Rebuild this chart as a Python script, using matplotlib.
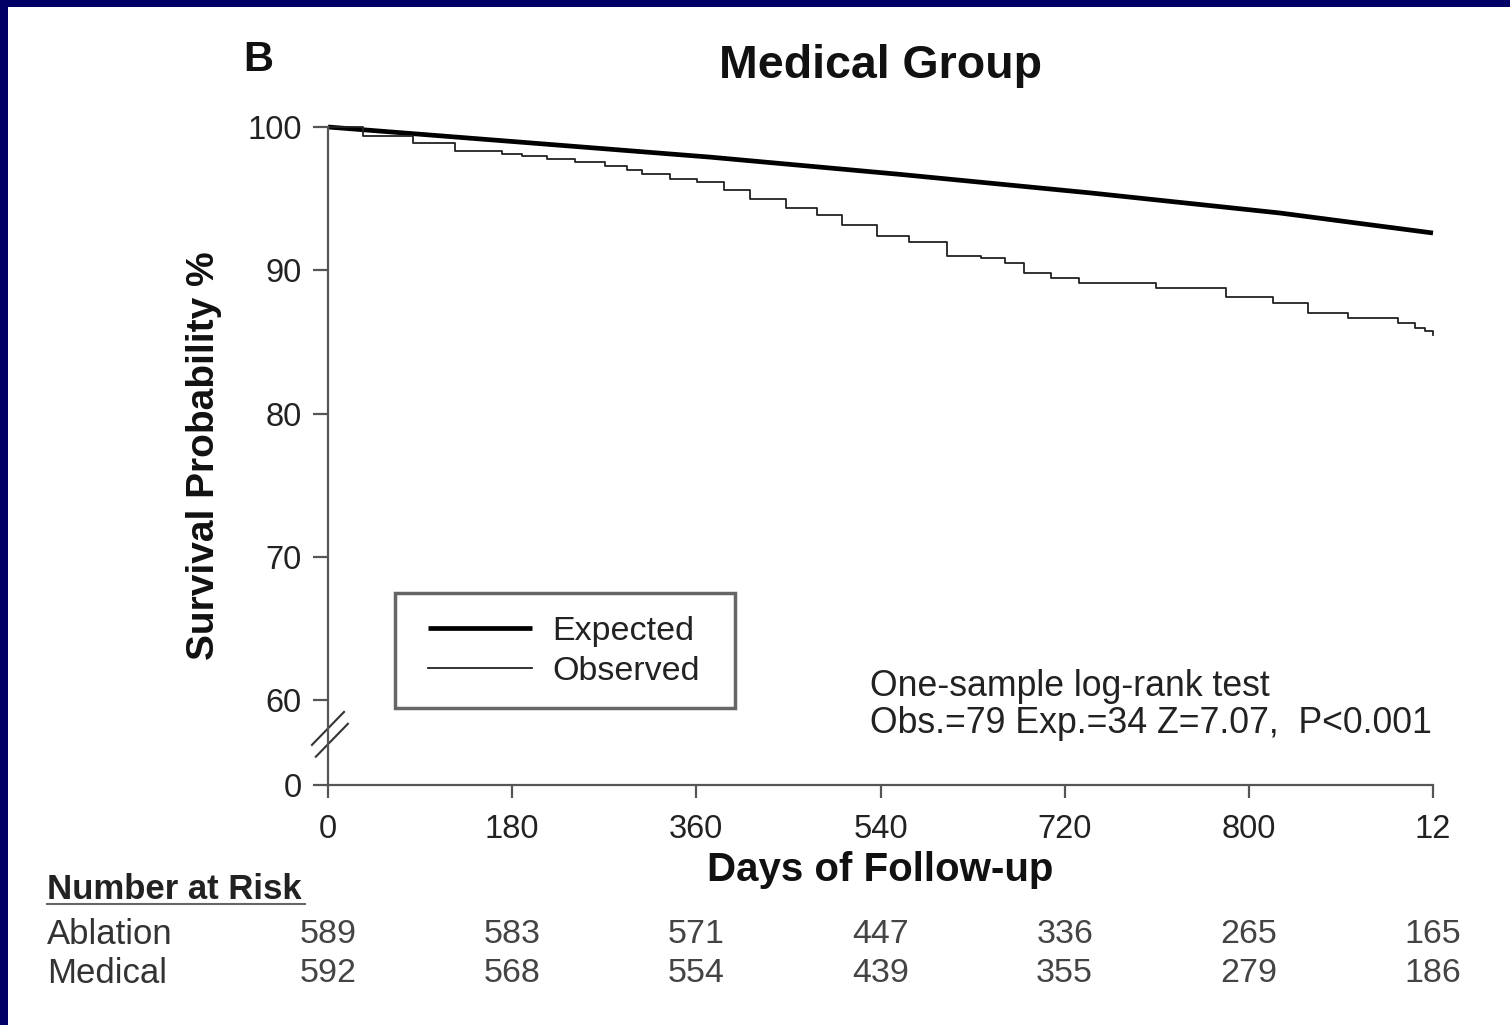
import matplotlib
matplotlib.use('Agg')
import matplotlib.pyplot as plt
from matplotlib.patches import Rectangle
from matplotlib.lines import Line2D
from matplotlib.transforms import blended_transform_factory

plt.rcParams['font.family'] = ['Liberation Sans', 'DejaVu Sans']

# curves (days of follow-up, survival %)
obs_days = [0, 34, 83, 124, 170, 190, 214, 241, 271, 292, 307, 334, 361, 387,
            412, 448, 478, 502, 537, 568, 605, 638, 662, 680, 707, 734, 809,
            878, 924, 958, 997, 1046, 1062, 1072, 1080]
obs_surv = [100, 99.4, 98.9, 98.3, 98.1, 98.0, 97.8, 97.55, 97.3, 97.0, 96.7,
            96.4, 96.15, 95.6, 95.0, 94.35, 93.85, 93.15, 92.4, 91.95, 91.0,
            90.85, 90.5, 89.8, 89.45, 89.1, 88.75, 88.1, 87.7, 87.05, 86.65,
            86.3, 86.0, 85.75, 85.5]
exp_days = [0, 187, 373, 558, 745, 930, 1080]
exp_surv = [100, 98.95, 97.9, 96.7, 95.4, 94.0, 92.6]

x_ticks = [0, 180, 360, 540, 720, 900, 1080]
x_ticklabels = ['0', '180', '360', '540', '720', '800', '12']
y_bottom = 54.07   # broken axis: bottom tick is shown as "0"
y_ticks = [y_bottom, 60, 70, 80, 90, 100]
y_ticklabels = ['0', '60', '70', '80', '90', '100']

risk_groups = ['Ablation', 'Medical']
risk_ablation = [589, 583, 571, 447, 336, 265, 165]
risk_medical = [592, 568, 554, 439, 355, 279, 186]

W, H = 1510, 1025
fig = plt.figure(figsize=(W / 100, H / 100), dpi=100)
fig.patch.set_facecolor('#000066')
fig.add_artist(Rectangle((8 / W, 0), 1, 1 - 7 / H, transform=fig.transFigure,
                         facecolor='white', edgecolor='none', zorder=-5))

ax = fig.add_axes([328 / W, 1 - 785 / H, 1105 / W, 658 / H])
ax.set_facecolor('white')

ax.plot(exp_days, exp_surv, color='black', lw=3.4, label='Expected',
        clip_on=False, solid_capstyle='butt')
ax.step(obs_days, obs_surv, where='post', color='#222222', lw=1.3,
        label='Observed', clip_on=False)

ax.set_xlim(0, 1080)
ax.set_ylim(y_bottom, 100)
ax.set_xticks(x_ticks)
ax.set_xticklabels(x_ticklabels)
ax.set_yticks(y_ticks)
ax.set_yticklabels(y_ticklabels)

for s in ['top', 'right']:
    ax.spines[s].set_visible(False)
for s in ['left', 'bottom']:
    ax.spines[s].set_color('#555555')
    ax.spines[s].set_linewidth(1.6)

ax.tick_params(axis='y', length=11, width=1.6, color='#555555', pad=8,
               labelsize=23.5, labelcolor='#222222')
ax.tick_params(axis='x', length=9, width=1.6, color='#555555', pad=12,
               labelsize=23.5, labelcolor='#222222')

# break marks on the y axis
for x0, y0, x1, y1 in [(-0.0145, 0.061, 0.0145, 0.111), (-0.011, 0.043, 0.018, 0.093)]:
    ax.add_line(Line2D([x0, x1], [y0, y1], transform=ax.transAxes, color='#333333',
                       lw=1.5, clip_on=False))

ax.set_title('Medical Group', fontsize=33.5, fontweight='bold', pad=35, color='#111111')
fig.text(258 / W, 1 - 60 / H, 'B', fontsize=30, fontweight='bold', ha='center',
         va='center', color='#111111')
ax.set_xlabel('Days of Follow-up', fontsize=29, fontweight='bold', labelpad=4,
              color='#111111')
ax.set_ylabel('Survival Probability %', fontsize=28, fontweight='bold', labelpad=18,
              color='#111111')

# legend with its own box
ax.add_patch(Rectangle((0.0606, 0.117), 0.3077, 0.1748, transform=ax.transAxes,
                       facecolor='white', edgecolor='#666666', lw=2.5, clip_on=False))
ax.legend(loc='upper left', bbox_to_anchor=(0.0905, 0.2574), frameon=False,
          fontsize=24.5, handlelength=3.05, handletextpad=0.6, labelspacing=0.27,
          borderaxespad=0, borderpad=0, labelcolor='#222222')

ax.text(0.4905, 0.150, 'One-sample log-rank test', transform=ax.transAxes,
        fontsize=25.7, va='center', ha='left', color='#222222')
ax.text(0.4905, 0.0937, 'Obs.=79 Exp.=34 Z=7.07,  P<0.001', transform=ax.transAxes,
        fontsize=25.7, va='center', ha='left', color='#222222')

# number at risk table
trans = blended_transform_factory(ax.transData, ax.transAxes)
ax.text(-0.2543, -0.1590, 'Number at Risk', transform=ax.transAxes, fontsize=25,
        fontweight='bold', va='center', ha='left', color='#222222')
ax.add_line(Line2D([-0.2543, -0.0208], [-0.1810, -0.1810], transform=ax.transAxes,
                   color='#666666', lw=1.5, clip_on=False))
for row_y, name, counts in [(-0.2279, risk_groups[0], risk_ablation),
                            (-0.2872, risk_groups[1], risk_medical)]:
    ax.text(-0.2543, row_y, name, transform=ax.transAxes, fontsize=25,
            va='center', ha='left', color='#333333')
    for day, n in zip(x_ticks, counts):
        ax.text(day, row_y, str(n), transform=trans, fontsize=24.5,
                va='center', ha='center', color='#444444')

plt.savefig('out.png', dpi=100, facecolor=fig.get_facecolor())
